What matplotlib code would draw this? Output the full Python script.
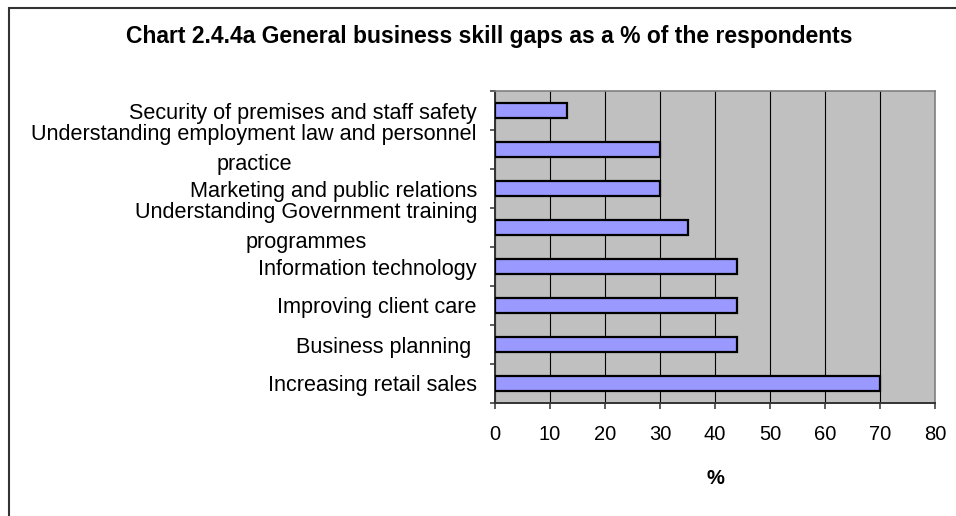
import matplotlib.pyplot as plt
import numpy as np

# Skill gaps, listed bottom to top as they appear on the chart
categories = [
    "Increasing retail sales",
    "Business planning ",
    "Improving client care",
    "Information technology",
    "Understanding Government training\nprogrammes",
    "Marketing and public relations",
    "Understanding employment law and personnel\npractice",
    "Security of premises and staff safety",
]
percent = [70, 44, 44, 44, 35, 30, 30, 13]
x_ticks = [0, 10, 20, 30, 40, 50, 60, 70, 80]

plt.rcParams["font.family"] = ["Liberation Sans", "DejaVu Sans"]

W, H = 956, 516
fig = plt.figure(figsize=(W / 100, H / 100), dpi=100)
ax = fig.add_axes([495 / W, 1 - 403 / H, (935 - 495) / W, (403 - 91) / H])

ax.set_facecolor("#C0C0C0")
y = np.arange(len(categories))
ax.barh(y, percent, height=0.41, color="#9999FF", edgecolor="black",
        linewidth=1.6, zorder=3)

ax.set_xlim(0, 80)
ax.set_ylim(-0.5, len(categories) - 0.5)
ax.set_xticks(x_ticks)
ax.set_xticklabels([str(v) for v in x_ticks], fontsize=14.5)
ax.xaxis.grid(True, color="black", linewidth=0.8, zorder=1)

# labels sit between the boundary tick marks
ax.set_yticks(y)
ax.set_yticklabels(categories, fontsize=15.6, linespacing=1.55)
for lbl in ax.get_yticklabels():
    lbl.set_multialignment("center")
    if "\n" in lbl.get_text():
        lbl.set_verticalalignment("center")
ax.set_yticks(np.arange(len(categories) + 1) - 0.5, minor=True)
ax.tick_params(axis="y", which="major", length=0, pad=13)
ax.tick_params(axis="y", which="minor", length=3.8, width=1.1, color="#333333")
ax.tick_params(axis="x", length=4.5, width=1.1, color="#333333", pad=11.5)

for side in ("top", "right"):
    ax.spines[side].set_color("#808080")
    ax.spines[side].set_linewidth(1.2)
for side in ("left", "bottom"):
    ax.spines[side].set_color("#333333")
    ax.spines[side].set_linewidth(1.4)

ax.set_xlabel("%", fontsize=14.5, fontweight="bold", labelpad=18)

fig.text(489 / W, 1 - 37 / H,
         "Chart 2.4.4a General business skill gaps as a % of the respondents",
         ha="center", va="center", fontsize=16.5, fontweight="bold")

# chart frame (only its left and top edges fall inside the image)
frame = plt.Rectangle((9 / W, -0.2), 1.5, 1.2 - 8 / H, transform=fig.transFigure,
                      fill=False, edgecolor="#333333", linewidth=1.5)
fig.add_artist(frame)

fig.savefig("out.png", dpi=100)
